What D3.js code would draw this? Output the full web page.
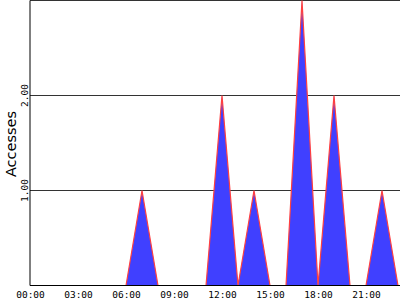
<!DOCTYPE html>
<html>
<head>
<meta charset="utf-8">
<script src="https://cdn.jsdelivr.net/npm/d3@7"></script>
<style>
  body { margin: 0; background: #fff; }
  svg { display: block; }
</style>
</head>
<body>
<div id="chart"></div>
<script>
// hourly access counts, 00:00 .. 23:00
const hours = d3.range(0, 24)
const accesses = [0, 0, 0, 0, 0, 0, 0, 1, 0, 0, 0, 0, 2, 0, 1, 0, 0, 3, 0, 2, 0, 0, 1, 0]
const xTicks = [0, 3, 6, 9, 12, 15, 18, 21]
const yTicks = [1, 2]

const margin = { top: 0.5, right: 0, bottom: 14.5, left: 30 }
const width = 400 - margin.left - margin.right
const height = 300 - margin.top - margin.bottom

const svg = d3
  .select('#chart')
  .append('svg')
  .attr('width', 400)
  .attr('height', 300)
  .append('g')
  .attr('transform', 'translate(' + margin.left + ',' + margin.top + ')')

const xPositionScale = d3.scaleLinear().domain([0, 23.125]).range([0, width])
const yPositionScale = d3.scaleLinear().domain([0, 3]).range([height, 0])

const datapoints = hours.map((h, i) => ({ hour: h, value: accesses[i] }))

/* grid lines */
svg
  .selectAll('.grid')
  .data(yTicks.concat([3]))
  .enter()
  .append('line')
  .attr('class', 'grid')
  .attr('x1', 0)
  .attr('x2', width)
  .attr('y1', d => yPositionScale(d))
  .attr('y2', d => yPositionScale(d))
  .attr('stroke', '#333')
  .attr('stroke-width', 1)

/* area + outline */
const area = d3
  .area()
  .x(d => xPositionScale(d.hour))
  .y0(yPositionScale(0))
  .y1(d => yPositionScale(d.value))

const line = d3
  .line()
  .x(d => xPositionScale(d.hour))
  .y(d => yPositionScale(d.value))

svg
  .append('path')
  .datum(datapoints)
  .attr('d', area)
  .attr('fill', '#4040ff')

svg
  .append('path')
  .datum(datapoints)
  .attr('d', line)
  .attr('fill', 'none')
  .attr('stroke', '#ff4040')
  .attr('stroke-width', 1.2)

/* axes */
const xAxis = d3
  .axisBottom(xPositionScale)
  .tickValues(xTicks)
  .tickSize(0)
  .tickPadding(6)
  .tickFormat(d => d3.format('02d')(d) + ':00')

svg
  .append('g')
  .attr('class', 'axis x-axis')
  .attr('transform', 'translate(0,' + height + ')')
  .call(xAxis)
  .style('font-family', '"DejaVu Sans Mono", monospace')
  .style('font-size', '9.5px')

svg.select('.x-axis .domain').attr('stroke', '#000').attr('d', 'M0,0H' + width)
svg.selectAll('.x-axis text').attr('fill', '#000')

svg
  .append('line')
  .attr('x1', 0)
  .attr('x2', 0)
  .attr('y1', 0)
  .attr('y2', height)
  .attr('stroke', '#000')

svg
  .selectAll('.y-label')
  .data(yTicks)
  .enter()
  .append('text')
  .attr('class', 'y-label')
  .attr('transform', d => 'translate(-2,' + yPositionScale(d) + ') rotate(-90)')
  .attr('text-anchor', 'middle')
  .style('font-family', '"DejaVu Sans Mono", monospace')
  .style('font-size', '9.5px')
  .text(d => d3.format('.2f')(d))

svg
  .append('text')
  .attr('transform', 'translate(-14,143.5) rotate(-90)')
  .attr('text-anchor', 'middle')
  .style('font-family', '"DejaVu Sans", sans-serif')
  .style('font-size', '14.5px')
  .attr('fill', '#000')
  .text('Accesses')
</script>
</body>
</html>
